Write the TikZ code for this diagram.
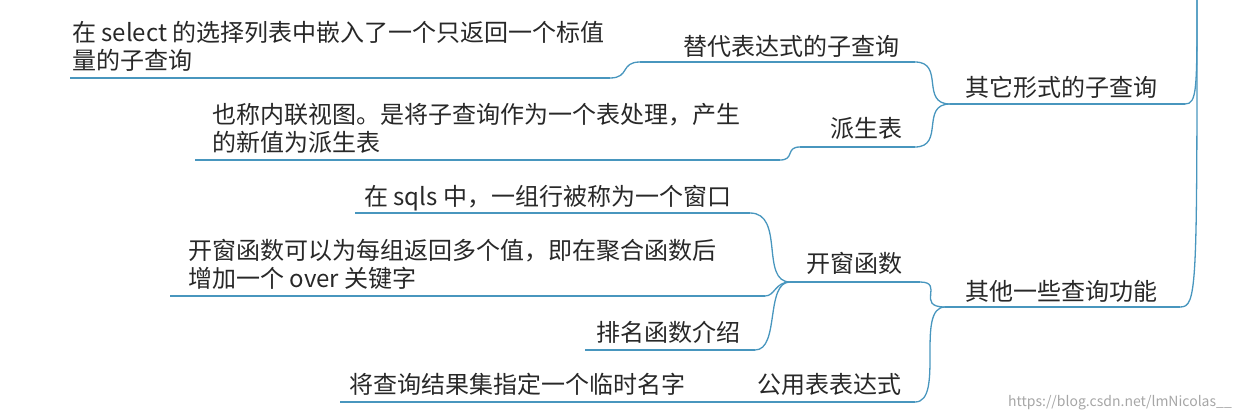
\documentclass[tikz,border=0pt]{standalone}
\usepackage{fontspec}
\setmainfont{Noto Sans CJK SC}
\usepackage{xcolor}
\definecolor{linecol}{RGB}{72,150,190}
\definecolor{txtcol}{RGB}{40,40,40}
\begin{document}
\begin{tikzpicture}[x=1pt,y=-1pt]
		\tikzset{
			branch/.style={draw=linecol, line width=1.3pt},
			lbl/.style={anchor=base west, inner sep=0pt, text=txtcol, font=\fontsize{24}{28}\selectfont, align=left},
			wmark/.style={anchor=base east, inner sep=0pt, text=gray!70, font=\fontsize{14}{15}\selectfont}
		}
		\useasboundingbox (0,0) rectangle (1242,418);
		% underlines
		\coordinate (rootT) at (1197,-2);
		\coordinate (subL) at (950,104);  \coordinate (subR) at (1185,104);
		\coordinate (funL) at (945,307);  \coordinate (funR) at (1180,307);
		\coordinate (altL) at (640,62);   \coordinate (altR) at (915,62);
		\coordinate (derL) at (800,147);  \coordinate (derR) at (915,147);
		\coordinate (winL) at (790,282);  \coordinate (winR) at (920,282);
		\coordinate (cteL) at (745,402);  \coordinate (cteR) at (915,402);
		\coordinate (scaL) at (70,78);    \coordinate (scaR) at (610,78);
		\coordinate (inlL) at (195,160);  \coordinate (inlR) at (780,160);
		\coordinate (grpL) at (355,213);  \coordinate (grpR) at (750,213);
		\coordinate (ovrL) at (170,296);  \coordinate (ovrR) at (765,296);
		\coordinate (rnkL) at (585,350);  \coordinate (rnkR) at (755,350);
		\coordinate (tmpL) at (340,402);  \coordinate (tmpR) at (725,402);
		\foreach \n in {sub,fun,alt,der,win,cte,sca,inl,grp,ovr,rnk,tmp}
			\draw[branch] (\n L) -- (\n R);

		% labels
		\node[lbl] (sub) at (965,96) {其它形式的子查询};
		\node[lbl] (fun) at (965,300) {其他一些查询功能};
		\node[lbl] (alt) at (683,55) {替代表达式的子查询};
		\node[lbl] (der) at (830,137) {派生表};
		\node[lbl] (win) at (806,272) {开窗函数};
		\node[lbl] (cte) at (757,393) {公用表表达式};
		\node[lbl] (sca) at (72,69) {在 select 的选择列表中嵌入了一个只返回一个标值\\量的子查询};
		\node[lbl] (inl) at (212,151) {也称内联视图。是将子查询作为一个表处理，产生\\的新值为派生表};
		\node[lbl] (grp) at (364,205) {在 sqls 中，一组行被称为一个窗口};
		\node[lbl] (ovr) at (188,287) {开窗函数可以为每组返回多个值，即在聚合函数后\\增加一个 over 关键字};
		\node[lbl] (rnk) at (596,341) {排名函数介绍};
		\node[lbl] (tmp) at (349,393) {将查询结果集指定一个临时名字};
		\node[wmark] (url) at (1232,406) {https://blog.csdn.net/lmNicolas\_\_};

		% connectors
		\draw[branch] (rootT) .. controls (1197,90) and (1197,104) .. (subR);
		\draw[branch] (rootT) .. controls (1197,290) and (1197,307) .. (funR);
		\draw[branch] (altR) .. controls (945,62) and (920,104) .. (subL);
		\draw[branch] (derR) .. controls (945,147) and (920,104) .. (subL);
		\draw[branch] (winR) .. controls (945,282) and (915,307) .. (funL);
		\draw[branch] (cteR) .. controls (945,402) and (915,307) .. (funL);
		\draw[branch] (scaR) .. controls (630,78) and (620,62) .. (altL);
		\draw[branch] (inlR) .. controls (795,160) and (785,147) .. (derL);
		\draw[branch] (grpR) .. controls (785,213) and (760,282) .. (winL);
		\draw[branch] (ovrR) .. controls (775,296) and (775,282) .. (winL);
		\draw[branch] (rnkR) .. controls (780,350) and (765,282) .. (winL);
		\draw[branch] (tmpR) .. controls (735,402) and (735,402) .. (cteL);
\end{tikzpicture}
\end{document}
